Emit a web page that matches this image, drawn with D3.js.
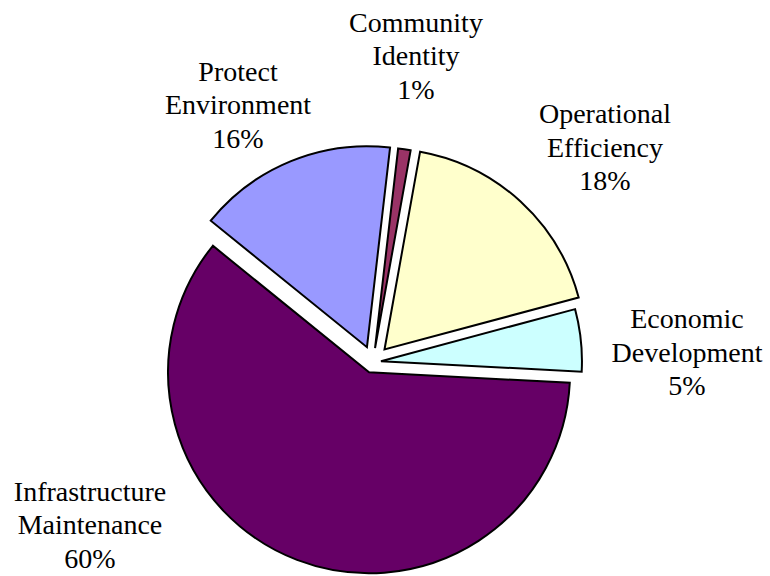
<!DOCTYPE html>
<html>
<head>
<meta charset="utf-8">
<script src="https://cdn.jsdelivr.net/npm/d3@7"></script>
<style>
  html, body { margin: 0; padding: 0; background: #ffffff; }
  svg { display: block; }
</style>
</head>
<body>
<svg id="chart" width="770" height="576"></svg>
<script>
// Budget priorities, share of total (percent)
const categories = [
  ["Infrastructure", "Maintenance"],
  ["Protect", "Environment"],
  ["Community", "Identity"],
  ["Operational", "Efficiency"],
  ["Economic", "Development"]
];
const values = [60, 16, 1, 18, 5];

// Slice fills
const colors = ["#660066", "#9999FF", "#993366", "#FFFFCC", "#CCFFFF"];

// How far each slice is pulled away from the centre (px)
const pullOut = [11, 16, 14, 17, 8];

// Label anchors: centre x and first baseline y of each label block
const labelX = [90, 238, 416, 605, 687];
const labelY = [500.5, 80.5, 31.5, 123, 328];
const lineGap = 33.5;

const width = 770, height = 576;
const cx = 373, cy = 362, radius = 201;
const startDeg = 93;

const svg = d3.select("#chart");
const total = d3.sum(values);

const pie = d3.pie()
  .sort(null)
  .value(d => d)
  .startAngle(startDeg * Math.PI / 180)
  .endAngle(startDeg * Math.PI / 180 + 2 * Math.PI);

const arc = d3.arc().innerRadius(0).outerRadius(radius);
const arcs = pie(values);

const g = svg.append("g").attr("transform", `translate(${cx},${cy})`);

g.selectAll("path")
  .data(arcs)
  .join("path")
  .attr("d", arc)
  .attr("transform", (d, i) => {
    const mid = (d.startAngle + d.endAngle) / 2;
    const dx = Math.sin(mid) * pullOut[i];
    const dy = -Math.cos(mid) * pullOut[i];
    return `translate(${dx},${dy})`;
  })
  .attr("fill", (d, i) => colors[i])
  .attr("stroke", "#000")
  .attr("stroke-width", 2)
  .attr("stroke-linejoin", "miter");

// Data labels: one text element per line (name on two lines, then the percentage)
const fmt = d3.format(".0%");
const labelLines = arcs.flatMap((d, i) =>
  categories[i].concat([fmt(d.data / total)]).map((s, k) => ({ s, i, k }))
);

svg.append("g")
  .selectAll("text")
  .data(labelLines)
  .join("text")
  .attr("x", d => labelX[d.i])
  .attr("y", d => labelY[d.i] + d.k * lineGap)
  .attr("text-anchor", "middle")
  .attr("font-family", "Liberation Serif")
  .attr("font-size", 28)
  .style("font-family", "Liberation Serif")
  .style("font-size", "28px")
  .attr("fill", "#000")
  .text(d => d.s);
</script>
</body>
</html>
